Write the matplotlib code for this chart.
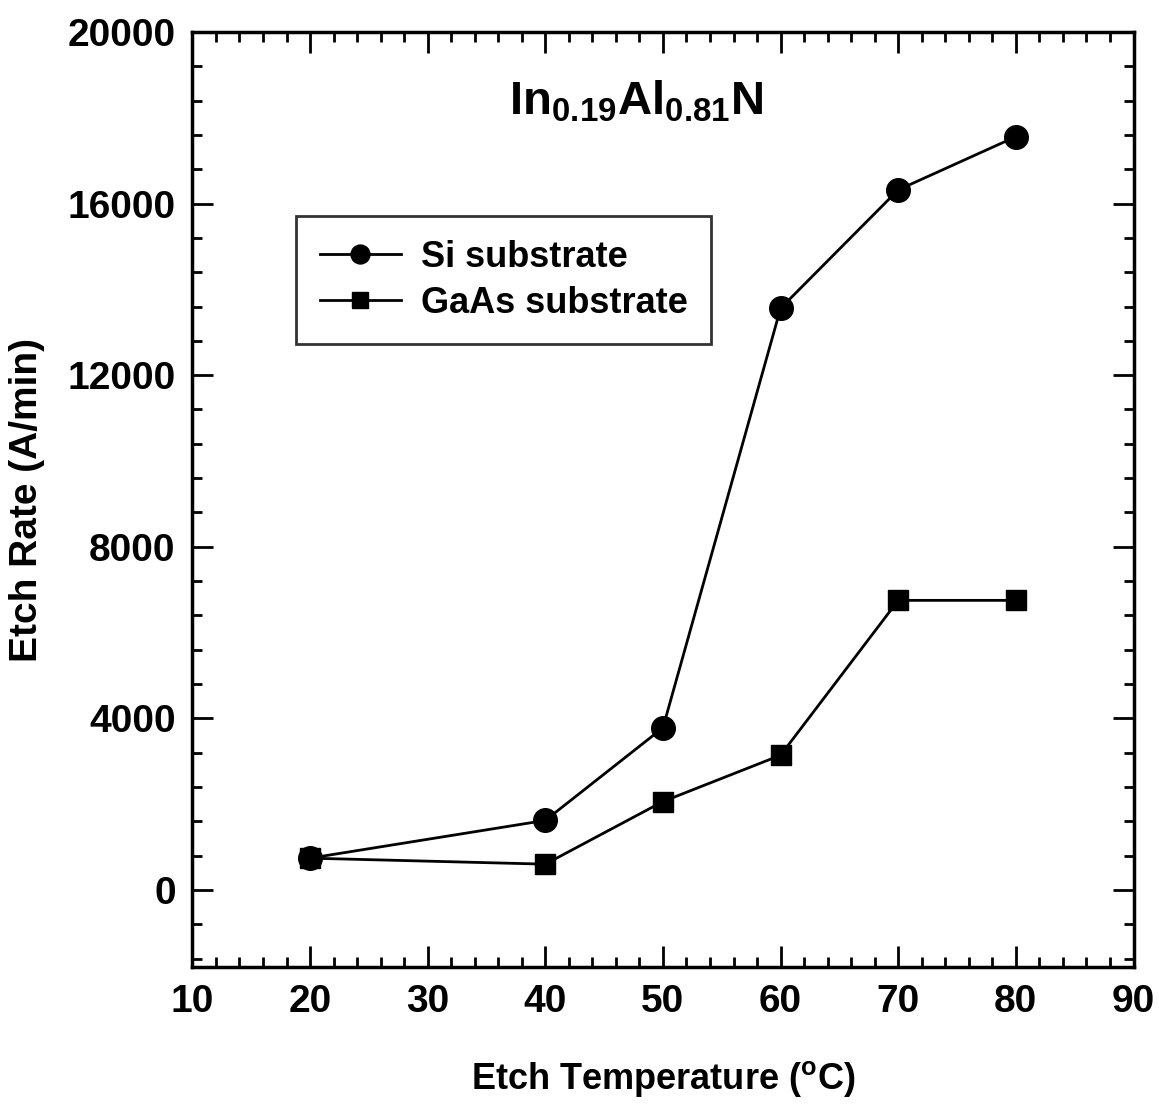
import matplotlib.pyplot as plt
from matplotlib.ticker import MultipleLocator

plt.rcParams['font.family'] = ['Liberation Sans', 'DejaVu Sans']
plt.rcParams['mathtext.fontset'] = 'custom'
plt.rcParams['mathtext.rm'] = 'Liberation Sans:bold'
plt.rcParams['mathtext.bf'] = 'Liberation Sans:bold'

temp = [20, 40, 50, 60, 70, 80]
si_rate = [740, 1620, 3780, 13560, 16320, 17560]
gaas_rate = [740, 600, 2060, 3140, 6750, 6750]

fig = plt.figure(figsize=(11.59, 11.04), dpi=100)
ax = fig.add_axes([0.166, 0.124, 0.812, 0.847])

ax.plot(temp, si_rate, '-o', color='black', lw=2, ms=17, label='Si substrate')
ax.plot(temp, gaas_rate, '-s', color='black', lw=2, ms=15, label='GaAs substrate')

ax.set_xlim(10, 90)
ax.set_ylim(-1800, 20000)
ax.xaxis.set_major_locator(MultipleLocator(10))
ax.xaxis.set_minor_locator(MultipleLocator(2))
ax.yaxis.set_major_locator(MultipleLocator(4000))
ax.yaxis.set_minor_locator(MultipleLocator(800))
ax.tick_params(which='both', direction='in', top=True, right=True, width=2)
ax.tick_params(which='major', length=15, labelsize=28, pad=12)
ax.tick_params(which='minor', length=7)
for lab in ax.get_xticklabels() + ax.get_yticklabels():
    lab.set_fontweight('bold')
for s in ax.spines.values():
    s.set_linewidth(2.5)

ax.set_xlabel('Etch Temperature ($^{\\rm o}$C)', fontsize=26, fontweight='bold', labelpad=28)
ax.set_ylabel('Etch Rate (A/min)', fontsize=28, fontweight='bold', labelpad=16)

ax.text(0.472, 0.925, r'$\mathbf{In_{0.19}Al_{0.81}N}$', transform=ax.transAxes,
        fontsize=34, ha='center', va='center')

leg = ax.legend(loc='upper left', bbox_to_anchor=(0.1105, 0.803), fontsize=26,
                frameon=True, fancybox=False, edgecolor='black',
                handlelength=2.25, borderpad=0.65, labelspacing=0.3,
                handletextpad=0.55, borderaxespad=0, markerscale=0.8)
leg.get_frame().set_linewidth(2)
for t in leg.get_texts():
    t.set_fontweight('semibold')

fig.savefig('out.png', dpi=100)
